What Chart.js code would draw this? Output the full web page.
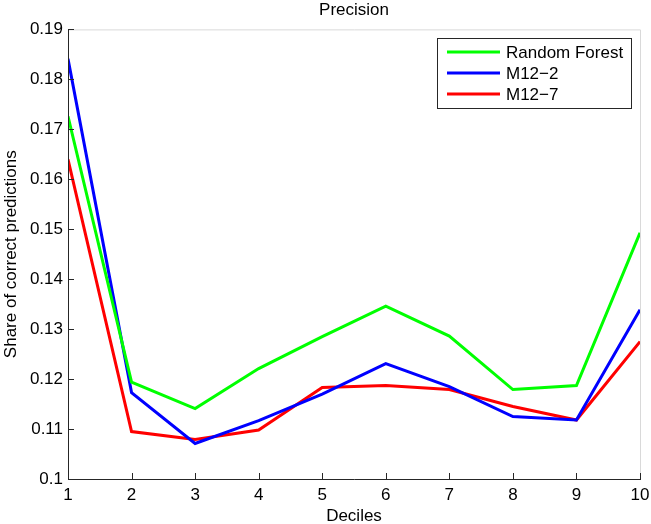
<!DOCTYPE html>
<html lang="en">
<head>
  <meta charset="UTF-8">
  <title>Precision</title>
  <script src="https://cdn.jsdelivr.net/npm/chart.js"></script>
  <style>
    body {
      margin: 0;
      padding: 0;
      background-color: #fff;
    }
    #chart-container {
      width: 651px;
      height: 524px;
    }
  </style>
</head>
<body>
  <div id="chart-container">
    <canvas id="precisionChart" width="651" height="524"></canvas>
  </div>

  <script>
    // deciles on the x axis
    const deciles = [1, 2, 3, 4, 5, 6, 7, 8, 9, 10];

    // share of correct predictions per model
    const randomForest = [0.1726, 0.1194, 0.1141, 0.1221, 0.1285, 0.1346, 0.1286, 0.1179, 0.1187, 0.1493];
    const m12_2 = [0.1841, 0.1173, 0.1071, 0.1117, 0.1170, 0.1231, 0.1185, 0.1125, 0.1118, 0.1339];
    const m12_7 = [0.1640, 0.1095, 0.1079, 0.1098, 0.1183, 0.1187, 0.1179, 0.1145, 0.1118, 0.1275];

    const seriesNames = ['Random Forest', 'M12\u22122', 'M12\u22127'];
    const seriesColors = ['#00ff00', '#0000ff', '#ff0000'];

    const yTicks = [0.1, 0.11, 0.12, 0.13, 0.14, 0.15, 0.16, 0.17, 0.18, 0.19];

    const FONT = '"Liberation Sans", Arial, Helvetica, sans-serif';

    function toPoints(values) {
      return values.map((v, i) => ({ x: deciles[i], y: v }));
    }

    // matlab-like box: inward ticks, light top/right border, boxed legend
    const matlabBox = {
      id: 'matlabBox',
      afterDatasetsDraw(chart) {
        const ctx = chart.ctx;
        const area = chart.chartArea;
        const xs = chart.scales.x;
        const ys = chart.scales.y;
        ctx.save();

        // light top and right edges
        ctx.strokeStyle = '#d9d9d9';
        ctx.lineWidth = 1;
        ctx.beginPath();
        ctx.moveTo(area.left, area.top + 0.5);
        ctx.lineTo(area.right + 0.5, area.top + 0.5);
        ctx.lineTo(area.right + 0.5, area.bottom);
        ctx.stroke();

        // inward ticks
        ctx.strokeStyle = '#262626';
        ctx.beginPath();
        deciles.forEach(d => {
          const px = Math.round(xs.getPixelForValue(d)) + 0.5;
          ctx.moveTo(px, area.bottom);
          ctx.lineTo(px, area.bottom - 6);
        });
        yTicks.forEach(t => {
          const py = Math.round(ys.getPixelForValue(t)) + 0.5;
          ctx.moveTo(area.left, py);
          ctx.lineTo(area.left + 6, py);
        });
        ctx.stroke();

        // axes
        ctx.beginPath();
        ctx.moveTo(area.left + 0.5, area.top);
        ctx.lineTo(area.left + 0.5, area.bottom + 0.5);
        ctx.lineTo(area.right + 1, area.bottom + 0.5);
        ctx.stroke();

        // legend
        const lx = 437, ly = 38, lw = 194, lh = 70;
        ctx.fillStyle = '#fff';
        ctx.fillRect(lx, ly, lw, lh);
        ctx.strokeStyle = '#262626';
        ctx.strokeRect(lx + 0.5, ly + 0.5, lw, lh);
        ctx.font = '17px ' + FONT;
        ctx.textBaseline = 'middle';
        ctx.textAlign = 'left';
        chart.data.datasets.forEach((ds, i) => {
          const y = ly + 14 + i * 21;
          ctx.strokeStyle = ds.borderColor;
          ctx.lineWidth = 3;
          ctx.beginPath();
          ctx.moveTo(lx + 10, y);
          ctx.lineTo(lx + 63, y);
          ctx.stroke();
          ctx.fillStyle = '#000';
          ctx.fillText(ds.label, lx + 69, y + 1);
        });
        ctx.restore();
      }
    };

    const ctx = document.getElementById('precisionChart').getContext('2d');
    const precisionChart = new Chart(ctx, {
      type: 'line',
      data: {
        datasets: [
          { label: seriesNames[0], data: toPoints(randomForest), borderColor: seriesColors[0] },
          { label: seriesNames[1], data: toPoints(m12_2), borderColor: seriesColors[1] },
          { label: seriesNames[2], data: toPoints(m12_7), borderColor: seriesColors[2] }
        ]
      },
      options: {
        responsive: false,
        animation: false,
        layout: {
          padding: { left: 0, right: 11, top: 0, bottom: 0 }
        },
        elements: {
          line: { borderWidth: 3, tension: 0, fill: false, borderCapStyle: 'butt' },
          point: { radius: 0 }
        },
        plugins: {
          legend: { display: false },
          tooltip: { enabled: false },
          title: {
            display: true,
            text: 'Precision',
            fullSize: false,
            color: '#000',
            font: { family: FONT, size: 17, weight: 'normal', lineHeight: 1.2 },
            padding: { top: 0, bottom: 9 }
          }
        },
        scales: {
          x: {
            type: 'linear',
            min: 1,
            max: 10,
            afterFit: (scale) => {
              scale.height = 45;
              scale.paddingLeft = 0;
              scale.paddingRight = 0;
            },
            afterBuildTicks: (scale) => { scale.ticks = deciles.map(v => ({ value: v })); },
            grid: { display: false, drawTicks: false },
            border: { display: false },
            ticks: {
              color: '#000',
              padding: 6,
              maxRotation: 0,
              font: { family: FONT, size: 17 },
              callback: (v) => String(v)
            },
            title: {
              display: true,
              text: 'Deciles',
              color: '#000',
              font: { family: FONT, size: 17, lineHeight: 0.9 },
              padding: { top: 0, bottom: 0 }
            }
          },
          y: {
            min: 0.1,
            max: 0.19,
            afterFit: (scale) => {
              scale.width = 68;
              scale.paddingTop = 0;
              scale.paddingBottom = 0;
            },
            afterBuildTicks: (scale) => { scale.ticks = yTicks.map(v => ({ value: v })); },
            grid: { display: false, drawTicks: false },
            border: { display: false },
            ticks: {
              color: '#000',
              padding: 5,
              font: { family: FONT, size: 17 },
              callback: (v) => (Math.round(v * 100) / 100).toString()
            },
            title: {
              display: true,
              text: 'Share of correct predictions',
              color: '#000',
              font: { family: FONT, size: 17 },
              padding: { top: 1, bottom: 0 }
            }
          }
        }
      },
      plugins: [matlabBox]
    });
  </script>
</body>
</html>
